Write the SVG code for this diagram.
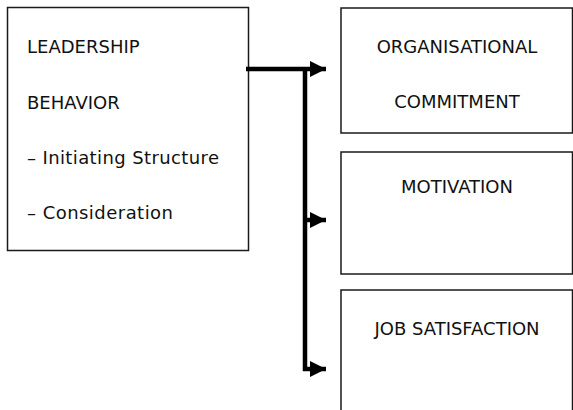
<svg xmlns="http://www.w3.org/2000/svg" width="573" height="410" viewBox="0 0 573 410">
<style>
.box{fill:#fff;stroke:#1a1a1a;stroke-width:1.5}
.t{font-family:"DejaVu Sans","Liberation Sans",sans-serif;font-size:18px;fill:#111}
.c{text-anchor:middle}
.con{fill:none;stroke:#000;stroke-width:4.5}
</style>
<defs>
<marker id="ah" markerUnits="userSpaceOnUse" markerWidth="16" markerHeight="16" viewBox="0 0 15 15" refX="15" refY="7.5" orient="auto">
<path d="M0,0 L15,7.5 L0,15 Z" fill="#000"/>
</marker>
</defs>
<g id="leadership">
<rect class="box" x="7.5" y="7.5" width="241" height="243"/>
<text class="t" x="27" y="53">LEADERSHIP</text>
<text class="t" x="27" y="109">BEHAVIOR</text>
<text class="t" x="27" y="164" textLength="192" lengthAdjust="spacing">– Initiating Structure</text>
<text class="t" x="27" y="219" textLength="146" lengthAdjust="spacing">– Consideration</text>
</g>
<g id="commitment">
<rect class="box" x="341" y="8" width="231.5" height="125"/>
<text class="t c" x="457" y="53">ORGANISATIONAL</text>
<text class="t c" x="457" y="108">COMMITMENT</text>
</g>
<g id="motivation">
<rect class="box" x="341" y="152" width="231.5" height="122"/>
<text class="t c" x="457" y="193">MOTIVATION</text>
</g>
<g id="satisfaction">
<rect class="box" x="341" y="290" width="231.5" height="130"/>
<text class="t c" x="457" y="335">JOB SATISFACTION</text>
</g>
<g id="connectors">
<path class="con" d="M246,69 H326" marker-end="url(#ah)"/>
<path class="con" d="M305,67 V371"/>
<path class="con" d="M305,220 H326" marker-end="url(#ah)"/>
<path class="con" d="M303,369 H326" marker-end="url(#ah)"/>
</g>
</svg>
